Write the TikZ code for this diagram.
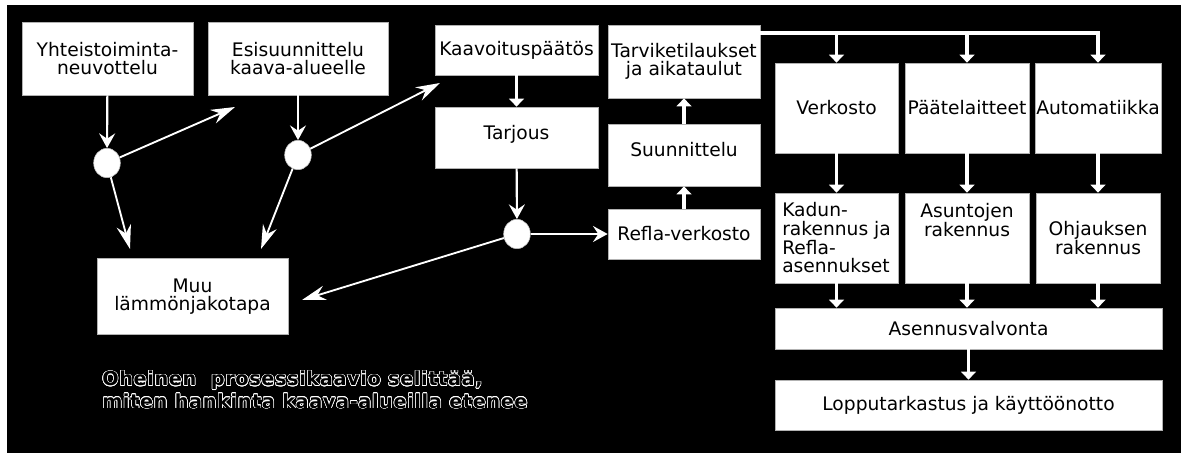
\documentclass[tikz,border=0pt]{standalone}
\usepackage{fontspec}
\setmainfont{DejaVu Sans}
\usepackage{contour}
\usetikzlibrary{arrows.meta,shapes.geometric,positioning}
\tikzset{
	box/.style={rectangle,fill=white,draw=gray!60,line width=0.5pt,align=center,inner sep=1pt,text=black,font=\fontsize{14}{14}\selectfont},
	knot/.style={ellipse,fill=white,draw=gray!50,minimum width=20pt,minimum height=22pt,inner sep=0pt},
	flow/.style={draw=white,line width=1.4pt,-{Stealth[length=18pt,width=11pt,inset=6pt]}},
	drop/.style={draw=white,line width=1.6pt,-{Stealth[length=11pt,width=12pt,inset=4pt]}},
	hop/.style={draw=white,line width=2.4pt,-{Triangle[length=6pt,width=11pt]}},
	note/.style={align=left,anchor=west,inner sep=0pt,text=black,font=\fontsize{14.5}{17}\selectfont\bfseries\addfontfeature{LetterSpace=3}}}
\contourlength{0.45pt}

\begin{document}
\begin{tikzpicture}[x=0.75pt,y=-0.75pt]
	\fill[white] (0,0) rectangle (1181,453);
	\fill[black] (7,5) rectangle (1181,453);
	\node (yht) at (107.5,58.5) [box,minimum width=128.25pt,minimum height=54.75pt] {Yhteistoiminta-\\neuvottelu};
	\node (esi) at (298,58.5) [box,minimum width=135pt,minimum height=54.75pt] {Esisuunnittelu\\kaava-alueelle};
	\node (kaa) at (516.5,50) [box,minimum width=122.25pt,minimum height=37.5pt] {Kaavoituspäätös};
	\node (tar) at (516.5,137.5) [box,minimum width=122.25pt,minimum height=45.75pt,text depth=8pt] {Tarjous};
	\node (tav) at (684,61.5) [box,minimum width=114pt,minimum height=54.75pt] {Tarviketilaukset\\ja aikataulut};
	\node (suu) at (684,155) [box,minimum width=114pt,minimum height=46.5pt,text depth=8pt] {Suunnittelu};
	\node (ref) at (684,234) [box,minimum width=114pt,minimum height=37.5pt] {Refla-verkosto};
	\node (ver) at (836.5,108) [box,minimum width=92.25pt,minimum height=67.5pt] {Verkosto};
	\node (paa) at (967,108) [box,minimum width=93pt,minimum height=67.5pt] {Päätelaitteet};
	\node (aut) at (1098,108) [box,minimum width=93pt,minimum height=67.5pt] {Automatiikka};
	\node (kad) at (836.5,238) [box,minimum width=92.25pt,minimum height=67.5pt,align=left] {Kadun-\\rakennus ja\\Refla-\\asennukset};
	\node (asu) at (967,238) [box,minimum width=93pt,minimum height=67.5pt,text depth=27pt] {Asuntojen\\rakennus};
	\node (ohj) at (1098,238) [box,minimum width=93pt,minimum height=67.5pt] {Ohjauksen\\rakennus};
	\node (ase) at (968.5,328.5) [box,minimum width=290.25pt,minimum height=30.75pt] {Asennusvalvonta};
	\node (lop) at (968.5,405) [box,minimum width=290.25pt,minimum height=37.5pt] {Lopputarkastus ja käyttöönotto};
	\node (muu) at (192.5,296.5) [box,minimum width=143.25pt,minimum height=57pt] {Muu\\lämmönjakotapa};
	\node (c1) at (107,163) [knot] {};
	\node (c2) at (298,155) [knot] {};
	\node (c3) at (517,234) [knot] {};
	\node (txt) at (102,390) [note] {\contour{white}{Oheinen \ prosessikaavio selittää,}\\\contour{white}{miten hankinta kaava-alueilla etenee}};
	\coordinate (e1) at (235,107);
	\coordinate (e2) at (440,83);
	\coordinate (m1) at (130,249);
	\coordinate (m2) at (261,249);
	\coordinate (m3) at (302,300);
	\coordinate (bus) at (760,33);
	\draw [drop] (yht) -- (c1);
	\draw [flow] (c1) -- (e1);
	\draw [flow] (c1) -- (m1);
	\draw [drop] (esi) -- (c2);
	\draw [flow] (c2) -- (e2);
	\draw [flow] (c2) -- (m2);
	\draw [hop] (kaa) -- (tar);
	\draw [drop] (tar) -- (c3);
	\draw [drop] (c3) -- (ref);
	\draw [flow] (c3) -- (m3);
	\draw [hop] (ref) -- (suu);
	\draw [hop] (suu) -- (tav);
	\draw [hop] (bus) -| (aut.north);
	\draw [hop] (bus -| ver.north) -- (ver.north);
	\draw [hop] (bus -| paa.north) -- (paa.north);
	\draw [hop] (ver) -- (kad);
	\draw [hop] (paa) -- (asu);
	\draw [hop] (aut) -- (ohj);
	\draw [hop] (kad.south) -- (kad.south |- ase.north);
	\draw [hop] (asu.south) -- (asu.south |- ase.north);
	\draw [hop] (ohj.south) -- (ohj.south |- ase.north);
	\draw [hop] (ase) -- (lop);
\end{tikzpicture}
\end{document}
